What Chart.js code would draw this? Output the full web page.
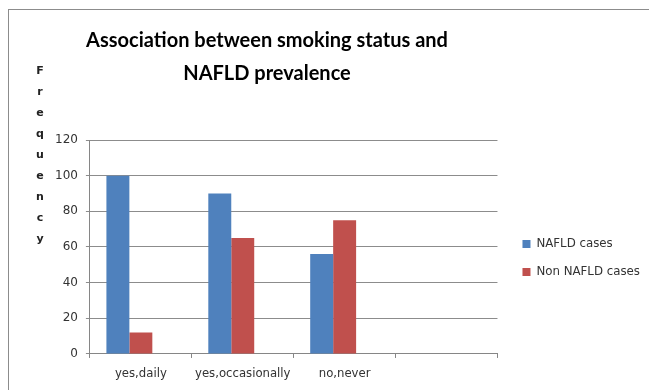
<!DOCTYPE html>
<html>
<head>
<meta charset="utf-8">
<script src="https://cdn.jsdelivr.net/npm/chart.js@4"></script>
<style>
  body { margin: 0; background: #fff; }
  #moldura { position: absolute; left: 8px; top: 9px; width: 700px; height: 420px; border: 1px solid #8c8c8c; }
  #grafico { position: absolute; left: 0; top: 0; }
</style>
</head>
<body>
<div id="moldura"></div>
<canvas id="grafico" width="649" height="390"></canvas>
<script>
let categorias = ["yes,daily", "yes,occasionally", "no,never", ""];
let casosNafld = [100, 90, 56, null];
let casosNaoNafld = [12, 65, 75, null];
let serieVazia = [null, null, null, null];
let tituloLinhas = ["Association between smoking status and", "NAFLD prevalence"];
let tituloEixoY = "Frequency";

// escreve "Frequency" letra por letra, na vertical
const rotuloVertical = {
    id: "rotuloVertical",
    afterDraw(chart) {
        let ctx = chart.ctx;
        ctx.save();
        ctx.font = "bold 11px 'DejaVu Sans'";
        ctx.fillStyle = "#222";
        ctx.textAlign = "center";
        ctx.textBaseline = "middle";
        tituloEixoY.split("").forEach((letra, i) => {
            ctx.fillText(letra, 40, 71 + i * 21);
        });
        ctx.restore();
    }
};

// o Excel centraliza o título mais à esquerda e a legenda um pouco mais abaixo
const ajusteLayout = {
    id: "ajusteLayout",
    afterLayout(chart) {
        let t = chart.titleBlock;
        let desloc = 267 - (t.left + t.right) / 2;
        t.left += desloc;
        t.right += desloc;
        let l = chart.legend;
        l.top += 11;
        l.bottom += 11;
        l.left += 9;
        l.right += 9;
    }
};

Chart.defaults.font.family = "'DejaVu Sans'";
Chart.defaults.color = "#333";

new Chart(document.getElementById("grafico"), {
    type: "bar",
    data: {
        labels: categorias,
        datasets: [
            {
                label: "NAFLD cases",
                data: casosNafld,
                backgroundColor: "#4F81BD"
            },
            {
                label: "Non NAFLD cases",
                data: casosNaoNafld,
                backgroundColor: "#C0504D"
            },
            {
                label: "",
                data: serieVazia,
                backgroundColor: "#9BBB59"
            }
        ]
    },
    options: {
        responsive: false,
        animation: false,
        datasets: { bar: { categoryPercentage: 0.676, barPercentage: 1 } },
        layout: { padding: { left: 47, right: 8, top: 16, bottom: 0 } },
        plugins: {
            title: {
                display: true,
                text: tituloLinhas,
                font: { family: "Lato", size: 20, weight: "bold", lineHeight: 1.65 },
                color: "#000",
                padding: { top: 8, bottom: 50 }
            },
            legend: {
                position: "right",
                fullSize: false,
                labels: {
                    boxWidth: 8,
                    boxHeight: 8,
                    padding: 16,
                    font: { size: 11.8 },
                    color: "#333",
                    filter: item => item.datasetIndex < 2
                }
            },
            tooltip: { enabled: false }
        },
        scales: {
            x: {
                grid: { display: true, drawOnChartArea: false, tickLength: 4, color: "#868686" },
                border: { color: "#868686" },
                ticks: { font: { size: 11.7 }, padding: 9, maxRotation: 0, autoSkip: false }
            },
            y: {
                min: 0,
                max: 120,
                ticks: { stepSize: 20, font: { size: 12 }, padding: 8 },
                grid: { color: "#8c8c8c", tickLength: 4 },
                border: { color: "#868686" }
            }
        }
    },
    plugins: [rotuloVertical, ajusteLayout]
});
</script>
</body>
</html>
